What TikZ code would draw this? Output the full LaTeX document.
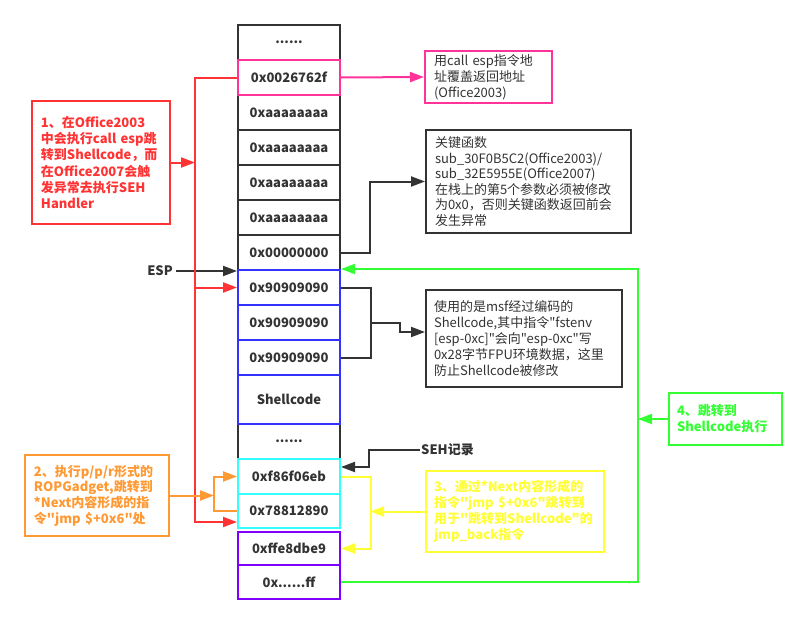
\documentclass[tikz,border=0pt]{standalone}
\usepackage{fontspec}
\setmainfont{Noto Sans CJK SC}[Ligatures=TeXOff]
\usetikzlibrary{arrows.meta}
\definecolor{cred}{RGB}{255,51,51}
\definecolor{cpink}{RGB}{255,51,153}
\definecolor{cdark}{RGB}{51,51,51}
\definecolor{cblue}{RGB}{51,51,255}
\definecolor{ccyan}{RGB}{51,255,255}
\definecolor{cpurple}{RGB}{127,0,255}
\definecolor{corange}{RGB}{255,153,51}
\definecolor{cyellow}{RGB}{255,255,51}
\definecolor{cgreen}{RGB}{51,255,51}
\begin{document}
\begin{tikzpicture}[x=1pt,y=-1pt,
  every node/.style={font=\fontsize{13}{16}\selectfont},
  cell/.style={draw=cdark, line width=2pt, minimum width=102pt, minimum height=35pt, inner sep=0pt, font=\fontsize{13}{16}\selectfont\bfseries, text=cdark},
  note/.style={draw, line width=2pt, fill=white, align=left, inner xsep=9pt, inner ysep=0pt, anchor=center},
  con/.style={line width=2pt},
  arr/.style={line width=2pt, -{Triangle[length=14pt,width=10pt]}},
]
\useasboundingbox[fill=white] (0,0) rectangle (807,624);
% stack: black cells first
\node[cell] (d1) at (289,42.5) {......};
\node[cell] (a1) at (289,112.5) {0xaaaaaaaa};
\node[cell] (a2) at (289,147.5) {0xaaaaaaaa};
\node[cell] (a3) at (289,182.5) {0xaaaaaaaa};
\node[cell] (a4) at (289,217.5) {0xaaaaaaaa};
\node[cell] (c0) at (289,252.5) {0x00000000};
\node[cell] (d2) at (289,441.5) {......};
% coloured cells
\node[cell,draw=cpink] (c2) at (289,77.5) {0x0026762f};
\node[cell,draw=cblue] (n1) at (289,287.5) {0x90909090};
\node[cell,draw=cblue] (n2) at (289,322.5) {0x90909090};
\node[cell,draw=cblue] (n3) at (289,357.5) {0x90909090};
\node[cell,draw=cblue,minimum height=49pt] (sc) at (289,399.5) {Shellcode};
\node[cell,draw=ccyan] (cf86) at (289,476.5) {0xf86f06eb};
\node[cell,draw=ccyan,minimum height=34pt] (c788) at (289,511) {0x78812890};
\node[cell,draw=cpurple,minimum height=33pt] (cffe) at (289,548.5) {0xffe8dbe9};
\node[cell,draw=cpurple,minimum height=34pt] (cff) at (289,582) {0x......ff};

% notes
\node[note,draw=cpink,text=cdark,text width=109pt,minimum height=52pt] (pb) at (488.5,77) {用call esp指令地\\址覆盖返回地址\\(Office2003)};
\node[note,draw=cred,text=cred,text width=120pt,minimum height=123pt,font=\fontsize{13}{16.3}\selectfont\bfseries] (rb) at (101,162.5) {1、在Office2003\\中会执行call esp跳\\转到Shellcode，而\\在Office2007会触\\发异常去执行SEH\\Handler};
\node[note,draw=cdark,text=cdark,text width=187pt,minimum height=103pt,font=\fontsize{13}{15.6}\selectfont] (b1) at (528.5,181.5) {关键函数\\sub\_30F0B5C2(Office2003)/\\sub\_32E5955E(Office2007)\\在栈上的第5个参数必须被修改\\为0x0，否则关键函数返回前会\\发生异常};
\node[note,draw=cdark,text=cdark,text width=180pt,inner xsep=8pt,minimum height=97pt,font=\fontsize{13}{15.8}\selectfont] (b2) at (524,338.5) {使用的是msf经过编码的\\Shellcode,其中指令"fstenv\\{[}esp-0xc]"会向"esp-0xc"写\\0x28字节FPU环境数据，这里\\防止Shellcode被修改};
\node[note,draw=corange,text=corange,text width=126pt,minimum height=81pt,font=\fontsize{13}{15.7}\selectfont\bfseries] (ob) at (97,495.5) {2、执行p/p/r形式的\\ROPGadget,跳转到\\{*}Next内容形成的指\\令"jmp \$+0x6"处};
\node[note,draw=cyellow,text=cyellow,text width=162pt,inner xsep=8pt,minimum height=81pt,font=\fontsize{13}{15.9}\selectfont\bfseries] (yb) at (515,511.5) {3、通过*Next内容形成的\\指令"jmp \$+0x6"跳转到\\用于"跳转到Shellcode"的\\jmp\_back指令};
\node[note,draw=cgreen,text=cgreen,text width=97pt,inner xsep=8pt,minimum height=52pt,font=\fontsize{13}{16}\selectfont\bfseries] (gb) at (725.5,419) {4、跳转到\\Shellcode执行};

\node[text=cdark,font=\fontsize{13}{16}\selectfont\bfseries] (esp) at (160,271) {ESP};
\node[anchor=west,text=cdark,font=\fontsize{13}{16}\selectfont\bfseries,inner sep=1pt] (seh) at (420,450) {SEH记录};

% helper coordinates for vertical rails
\coordinate (rv) at (195,300);
\coordinate (ov) at (214,494);
\coordinate (yv) at (370,511);
\coordinate (gv) at (638,400);

% pink
\draw[arr,cpink] (c2.east) -- (pb.west);
% black
\draw[arr,cdark] (c0.east) -- ++(29,0) |- (b1.west);
\draw[con,cdark] (n1.east) -- ++(30,0) coordinate (bk) |- (n3.east);
\draw[arr,cdark] (bk |- n2.east) -- ++(29,0) |- ([yshift=6.5pt]b2.west);
\draw[arr,cdark] (esp.east) -- (esp.east -| c0.west);
\draw[arr,cdark] (seh.west) -- ++(-51,0) |- ([yshift=9.5pt]cf86.east);
% red
\draw[arr,cred] (c2.west) -| (195,522) -- ([yshift=-11pt]c788.west);
\draw[arr,cred] (n1.west -| rv) -- (n1.west);
\draw[arr,cred] (rb.east) -- (rb.east -| rv);
% orange
\draw[arr,corange] (ob.east) -- (ob.east -| ov);
\draw[arr,corange] (c788.west) -| (ov |- cf86.west) -- (cf86.west);
% yellow
\draw[arr,cyellow] (cf86.east) -- ++(30,0) |- (cffe.east);
\draw[arr,cyellow] (yb.west) -- (yb.west -| yv);
% green
\draw[arr,cgreen] (cff.east) -| (gv |- n1.north east) -- (n1.north east);
\draw[arr,cgreen] (gb.west) -- (gb.west -| gv);
\end{tikzpicture}
\end{document}
